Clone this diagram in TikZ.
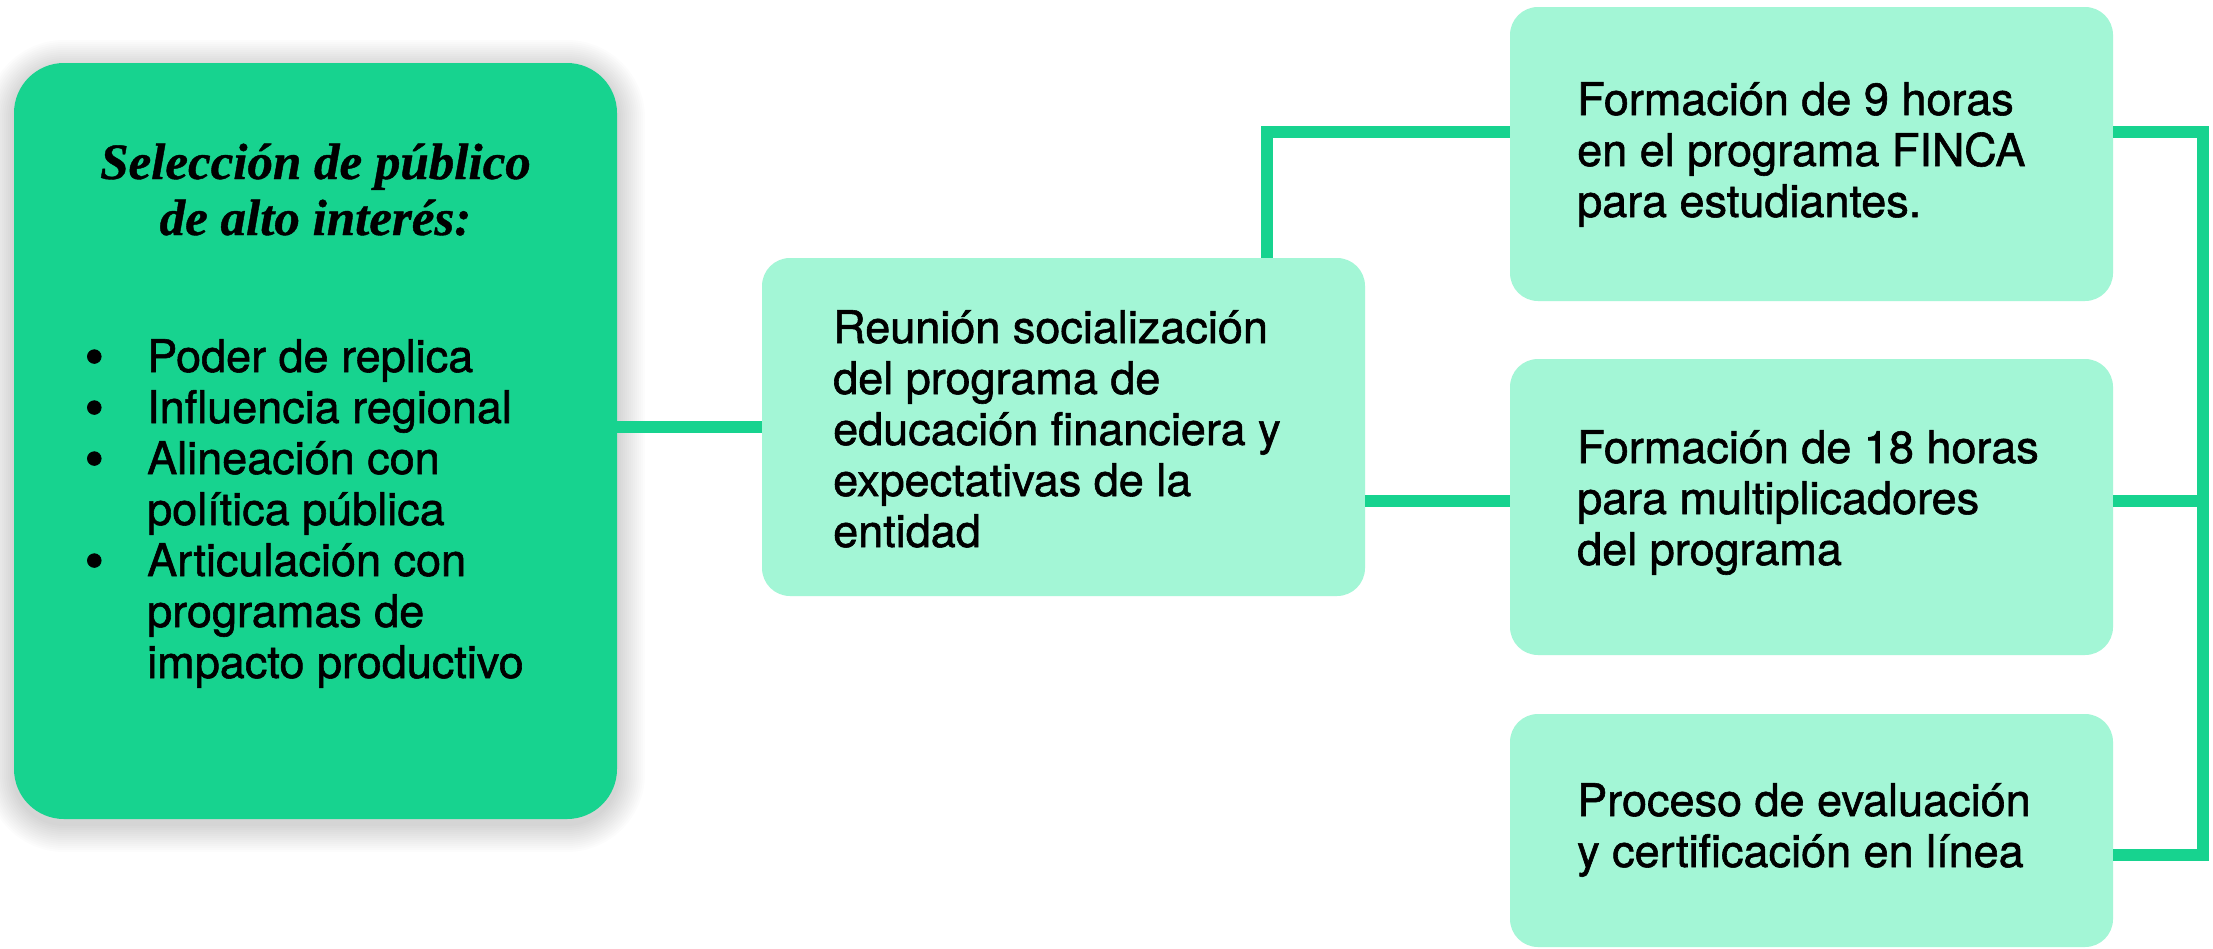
\documentclass[tikz,border=0pt]{standalone}
\usepackage{fontspec}
\usepackage{graphicx}
\newfontfamily\hvfont[FakeBold=1.3]{TeX Gyre Heros}
\newfontfamily\serifbi[BoldItalicFeatures={FakeBold=0.8}]{Liberation Serif}
\definecolor{dkgreen}{HTML}{17D38F}
\definecolor{ltgreen}{HTML}{A3F6D6}
\newcommand\bul{\makebox[63.5pt][l]{\hspace*{1pt}\smash{\raisebox{-3.5pt}{\scalebox{1.22}{\textbullet}}}}}
\newcommand\ind{\hspace*{63.5pt}}
\begin{document}
\begin{tikzpicture}[x=1pt,y=-1pt,
  lightbox/.style={fill=ltgreen, rounded corners=28pt, inner sep=0pt, draw=none, minimum width=603pt},
  mainbox/.style={fill=dkgreen, rounded corners=50pt, inner sep=0pt, draw=none},
  conn/.style={draw=dkgreen, line width=12pt},
  bodytext/.style={inner sep=0pt, anchor=base west, font=\hvfont\fontsize{45}{51}\selectfont},
  titletext/.style={inner sep=0pt, anchor=base, font=\serifbi\bfseries\itshape\fontsize{51}{56}\selectfont},
]
\useasboundingbox (0,0) rectangle (2213,948);
\fill[white] (0,0) rectangle (2213,948);

% soft shadow around the main box
\foreach \i in {1,...,14}{
  \pgfmathsetmacro\rr{50+2*\i}
  \fill[black, fill opacity=0.011, rounded corners=\rr pt]
    (14-2*\i, 63-2*\i+5) rectangle (617+2*\i, 819+2*\i+5);
}

% boxes
\node[mainbox, minimum width=603pt, minimum height=756pt] (lbox) at (315.5,441) {};
\node[lightbox, minimum height=338pt] (reu) at (1063.5,427) {};
\node[lightbox, minimum height=294pt] (top) at (1811.5,154) {};
\node[lightbox, minimum height=296pt] (mid) at (1811.5,507) {};
\node[lightbox, minimum height=233pt] (bot) at (1811.5,830.5) {};

% texts
\node[titletext] (ttl) at (315.5,179) {\parbox[t]{580pt}{\centering Selección de público\\de alto interés:}};
\node[bodytext] (blist) at (83.5,372) {\parbox[t]{520pt}{\bul Poder de replica\\
\bul Influencia regional\\
\bul Alineación con\\
\ind política pública\\
\bul Articulación con\\
\ind programas de\\
\ind impacto productivo}};
\node[bodytext] (reuT) at (833,343) {\parbox[t]{520pt}{Reunión socialización\\del programa de\\educación financiera y\\expectativas de la\\entidad}};
\node[bodytext] (topT) at (1577,115) {\parbox[t]{520pt}{Formación de 9 horas\\en el programa FINCA\\para estudiantes.}};
\node[bodytext] (midT) at (1577,463) {\parbox[t]{520pt}{Formación de 18 horas\\para multiplicadores\\del programa}};
\node[bodytext] (botT) at (1577,816) {\parbox[t]{520pt}{Proceso de evaluación\\y certificación en línea}};

% connectors
\coordinate (t1) at (1266.5,131.5);
\coordinate (m1) at (1365,501);
\coordinate (r1) at (2203,131.5);
\coordinate (r2) at (2203,501);
\coordinate (r3) at (2203,854.5);
\draw[conn] (lbox.east |- reu.west) -- (reu.west);
\draw[conn] (reu.north -| t1) -- (t1) -- (top.west |- t1);
\draw[conn] (reu.east |- m1) -- (mid.west |- m1);
\draw[conn] (top.east |- r1) -- (r1) -- (r3) -- (bot.east |- r3);
\draw[conn] (mid.east |- r2) -- (r2);
\end{tikzpicture}
\end{document}
